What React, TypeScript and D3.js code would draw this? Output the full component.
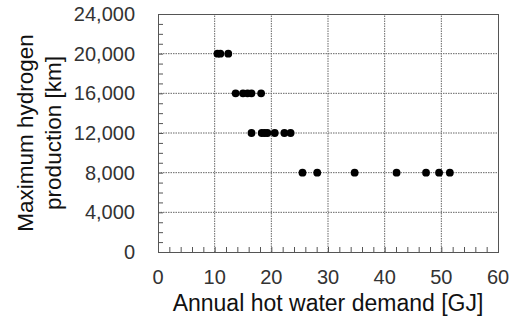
import React, { useEffect, useRef } from "react";
import * as d3 from "d3";

// annual hot water demand [GJ] and the matching max hydrogen production [km]
const hotWaterDemand = [
  10.5, 11.0, 12.4,
  13.7, 15.0, 15.8, 16.5, 18.2,
  16.5, 18.3, 18.8, 19.3, 20.6, 22.3, 23.4,
  25.5, 28.1, 34.7, 42.1, 47.3, 49.6, 51.5,
];
const maxProduction = [
  20000, 20000, 20000,
  16000, 16000, 16000, 16000, 16000,
  12000, 12000, 12000, 12000, 12000, 12000, 12000,
  8000, 8000, 8000, 8000, 8000, 8000, 8000,
];
const xTicks = [0, 10, 20, 30, 40, 50, 60];
const yTicks = [0, 4000, 8000, 12000, 16000, 20000, 24000];

const FONT = "'Liberation Sans', Arial, sans-serif";

export default function App() {
  const ref = useRef<SVGSVGElement>(null);

  useEffect(() => {
    const width = 515;
    const height = 321;
    const margin = { top: 14, right: 17, bottom: 69, left: 158 };

    const x = d3.scaleLinear().domain([0, 60]).range([margin.left, width - margin.right]);
    const y = d3.scaleLinear().domain([0, 24000]).range([height - margin.bottom, margin.top]);

    const svg = d3.select(ref.current);
    svg.selectAll("*").remove();

    // dotted grid
    svg.append("g")
      .selectAll("line")
      .data(xTicks.slice(1, -1))
      .join("line")
      .attr("x1", d => x(d)).attr("x2", d => x(d))
      .attr("y1", y(0)).attr("y2", y(24000))
      .attr("stroke", "#666").attr("stroke-dasharray", "1.5,1");
    svg.append("g")
      .selectAll("line")
      .data(yTicks.slice(1, -1))
      .join("line")
      .attr("x1", x(0)).attr("x2", x(60))
      .attr("y1", d => y(d)).attr("y2", d => y(d))
      .attr("stroke", "#666").attr("stroke-dasharray", "1.5,1");

    // inner minor ticks
    svg.append("g")
      .attr("transform", `translate(0,${y(0)})`)
      .call(d3.axisTop(x).tickValues(d3.range(0, 61, 2)).tickSize(5).tickFormat(() => ""))
      .call(g => g.select(".domain").remove())
      .selectAll("line").attr("stroke", "#555");
    svg.append("g")
      .attr("transform", `translate(${x(0)},0)`)
      .call(d3.axisRight(y).tickValues(d3.range(0, 24001, 1000)).tickSize(5).tickFormat(() => ""))
      .call(g => g.select(".domain").remove())
      .selectAll("line").attr("stroke", "#555");

    // frame
    svg.append("rect")
      .attr("x", x(0) + 0.5).attr("y", y(24000) + 0.5)
      .attr("width", x(60) - x(0)).attr("height", y(0) - y(24000))
      .attr("fill", "none").attr("stroke", "#555");

    // tick labels
    svg.append("g")
      .selectAll("text")
      .data(xTicks)
      .join("text")
      .attr("x", d => x(d)).attr("y", 284)
      .attr("text-anchor", "middle")
      .attr("font-family", FONT).attr("font-size", 20).attr("fill", "#333")
      .text(d => d);
    svg.append("g")
      .selectAll("text")
      .data(yTicks)
      .join("text")
      .attr("x", 135).attr("y", d => y(d) + 7)
      .attr("text-anchor", "end")
      .attr("font-family", FONT).attr("font-size", 20).attr("fill", "#333")
      .text(d => d3.format(",")(d));

    // points
    svg.append("g")
      .selectAll("circle")
      .data(hotWaterDemand)
      .join("circle")
      .attr("cx", d => x(d))
      .attr("cy", (d, i) => y(maxProduction[i]))
      .attr("r", 3.9)
      .attr("fill", "#000");

    // axis titles
    svg.append("text")
      .attr("x", (x(0) + x(60)) / 2).attr("y", 311)
      .attr("text-anchor", "middle")
      .attr("font-family", FONT).attr("font-size", 23).attr("fill", "#111")
      .text("Annual hot water demand [GJ]");

    const cy = (y(0) + y(24000)) / 2;
    const yTitle = svg.append("text")
      .attr("transform", `translate(33,${cy}) rotate(-90)`)
      .attr("text-anchor", "middle")
      .attr("font-family", FONT).attr("font-size", 22.5).attr("fill", "#111");
    yTitle.append("tspan").attr("x", 0).attr("y", 0).text("Maximum hydrogen");
    yTitle.append("tspan").attr("x", 0).attr("y", 28).text("production [km]");
  }, []);

  return (
    <svg ref={ref} width={515} height={321}
      style={{ position: "absolute", left: 0, top: 0, background: "#fff" }} />
  );
}
